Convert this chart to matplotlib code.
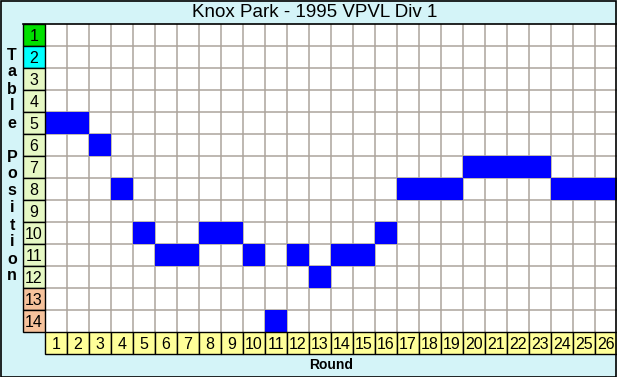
import matplotlib
matplotlib.use("Agg")
import matplotlib.pyplot as plt
from matplotlib.patches import Rectangle

title = "Knox Park - 1995 VPVL Div 1"
rounds = list(range(1, 27))
positions = [5, 5, 6, 8, 10, 11, 11, 10, 10, 11, 14, 11, 12, 11, 11, 10,
             8, 8, 8, 7, 7, 7, 7, 8, 8, 8]
table_rows = list(range(1, 15))
row_colors = ["#00E000", "#00FFFF"] + ["#E6F8C4"] * 10 + ["#F6C29C"] * 2
ylabel_text = "Table Position"
xlabel_text = "Round"

W, H = 617, 377
fig = plt.figure(figsize=(W / 100, H / 100), dpi=100)
fig.patch.set_facecolor("#D4F4F8")

# border of image
fig.add_artist(Rectangle((0.5 / W, 0.5 / H), (W - 1.5) / W, (H - 1.5) / H,
                         transform=fig.transFigure, fill=False,
                         edgecolor="black", linewidth=1.2))

nr = len(table_rows)
nc = len(rounds)
left_px, right_px, top_px, bot_px = 23, 617, 24, 354
ax = fig.add_axes([left_px / W, (H - bot_px) / H,
                   (right_px - left_px) / W, (bot_px - top_px) / H])
ax.set_xlim(-1, nc)
ax.set_ylim(nr + 1, 0)
ax.axis("off")

# plot area background
ax.add_patch(Rectangle((0, 0), nc, nr, facecolor="white", edgecolor="none", zorder=0))

# grid lines
for i in range(1, nc):
    ax.plot([i, i], [0, nr], color="#ACA49C", linewidth=1.1, zorder=1)
for j in range(1, nr):
    ax.plot([0, nc], [j, j], color="#ACA49C", linewidth=1.1, zorder=1)

# blue position cells
for r, p in zip(rounds, positions):
    ax.add_patch(Rectangle((r - 1, p - 1), 1, 1, facecolor="#0000FF",
                           edgecolor="none", zorder=2))

# row label cells
for j, (t, c) in enumerate(zip(table_rows, row_colors)):
    ax.add_patch(Rectangle((-1, j), 1, 1, facecolor=c, edgecolor="black",
                           linewidth=1, zorder=3, clip_on=False))
    ax.text(-0.5, j + 0.55, str(t), ha="center", va="center", fontsize=11.5,
            family="Liberation Sans", zorder=4)

# round label cells
for i, r in enumerate(rounds):
    ax.add_patch(Rectangle((i, nr), 1, 1, facecolor="#FFFF99", edgecolor="black",
                           linewidth=1, zorder=3, clip_on=False))
    ax.text(i + 0.5, nr + 0.55, str(r), ha="center", va="center", fontsize=11.5,
            family="Liberation Sans", zorder=4)

# top border line
ax.plot([-1, nc], [0, 0], color="black", linewidth=1.2, zorder=5, clip_on=False)

# title
fig.text(315 / W, 1 - 12.5 / H, title, ha="center", va="center", fontsize=13.5,
         family="Liberation Sans")

# x label
fig.text(331 / W, 1 - 365 / H, xlabel_text, ha="center", va="center", fontsize=10,
         fontweight="bold", family="Liberation Sans")

# stacked vertical y label
y0 = 55
for k, ch in enumerate(ylabel_text):
    if ch == " ":
        continue
    fig.text(12 / W, 1 - (y0 + 17 * k) / H, ch, ha="center", va="center",
             fontsize=11.5, fontweight="bold", family="Liberation Sans")

fig.savefig("out.png", dpi=100, facecolor=fig.get_facecolor())
